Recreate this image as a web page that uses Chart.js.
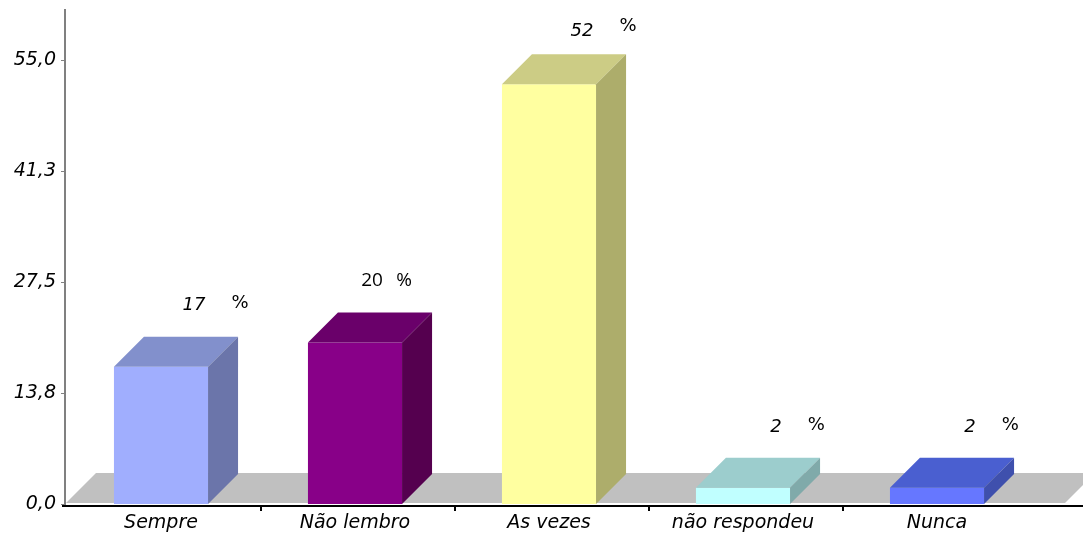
<!DOCTYPE html>
<html lang="pt">
<head>
<meta charset="UTF-8" />
<title>Respostas</title>
<script src="https://cdn.jsdelivr.net/npm/chart.js@4.4.0/dist/chart.umd.min.js"></script>
<style>
  html, body { margin: 0; padding: 0; background: #fff; }
</style>
</head>
<body>
<div style="width: 1083px; height: 533px">
  <canvas id="chart" width="1083" height="533"></canvas>
</div>
<script>
  const categories = ["Sempre", "Não lembro", "As vezes", "não respondeu", "Nunca"];
  const percentages = [17, 20, 52, 2, 2];
  const yTickValues = [0, 13.75, 27.5, 41.25, 55];
  const yTickLabels = ["0,0", "13,8", "27,5", "41,3", "55,0"];

  // front / top / side shades for each column
  const frontColors = ["#a0aefe", "#880088", "#ffffa0", "#c0ffff", "#6677ff"];
  const topColors = ["#8290cc", "#6a006a", "#cccc85", "#9ccdcd", "#4a5fd0"];
  const sideColors = ["#6b75aa", "#55004f", "#adad6b", "#80aaaa", "#3f50ad"];

  const DEPTH = 30;
  const tickFont = { family: "DejaVu Sans", size: 19, style: "italic" };

  const box3d = {
    id: "box3d",
    beforeDatasetsDraw(chart) {
      const { ctx, chartArea: a } = chart;
      const base = a.bottom - 1;
      // grey floor
      ctx.save();
      ctx.fillStyle = "#c0c0c0";
      ctx.beginPath();
      ctx.moveTo(a.left + 2, base);
      ctx.lineTo(a.left + 2 + DEPTH, base - DEPTH);
      ctx.lineTo(a.right + 31 + DEPTH, base - DEPTH);
      ctx.lineTo(a.right + 31, base);
      ctx.closePath();
      ctx.fill();
      ctx.restore();
    },
    afterDatasetsDraw(chart) {
      const { ctx, chartArea: a } = chart;
      const meta = chart.getDatasetMeta(0);
      ctx.save();
      meta.data.forEach((bar, i) => {
        const l = bar.x - bar.width / 2;
        const r = bar.x + bar.width / 2;
        const t = bar.y;
        const b = bar.base;
        // top face
        ctx.fillStyle = topColors[i];
        ctx.beginPath();
        ctx.moveTo(l, t);
        ctx.lineTo(l + DEPTH, t - DEPTH);
        ctx.lineTo(r + DEPTH, t - DEPTH);
        ctx.lineTo(r, t);
        ctx.closePath();
        ctx.fill();
        // right side face
        ctx.fillStyle = sideColors[i];
        ctx.beginPath();
        ctx.moveTo(r, t);
        ctx.lineTo(r + DEPTH, t - DEPTH);
        ctx.lineTo(r + DEPTH, b - DEPTH);
        ctx.lineTo(r, b);
        ctx.closePath();
        ctx.fill();
      });

      // axes
      const axisY = a.bottom + 1;
      ctx.fillStyle = "#808080";
      ctx.fillRect(a.left, a.top + 1, 2, axisY - a.top);
      const ys = chart.scales.y;
      yTickValues.forEach((v) => {
        const py = Math.round(ys.getPixelForValue(v));
        ctx.fillRect(a.left - 3, py, 3, 1);
      });
      ctx.fillStyle = "#000";
      ctx.fillRect(a.left - 2, axisY, chart.width - a.left + 2, 2);
      const xs = chart.scales.x;
      for (let i = 0; i < categories.length - 1; i++) {
        const px = Math.round((xs.getPixelForValue(i) + xs.getPixelForValue(i + 1)) / 2) + 2;
        ctx.fillRect(px, axisY + 2, 2, 4);
      }

      // value labels above each column
      ctx.textBaseline = "middle";
      meta.data.forEach((bar, i) => {
        const cx = bar.x + DEPTH;
        const raw = bar.y - DEPTH - 31;
        const cy = Math.max(raw, 31);
        const txt = String(percentages[i]);
        ctx.fillStyle = "#000";
        if (i === 1) {
          ctx.textAlign = "center";
          ctx.font = "19px 'Open Sans'";
          ctx.fillText(txt, cx - 13, cy - 1);
          ctx.fillText("%", cx + 19, cy - 1);
        } else {
          ctx.font = "italic 18px 'DejaVu Sans'";
          ctx.textAlign = "center";
          ctx.fillText(txt, cx + 3, cy);
          const right = cx + 3 + ctx.measureText(txt).width / 2;
          ctx.font = "18px 'DejaVu Sans'";
          ctx.textAlign = "left";
          ctx.fillText("%", right + 26, raw < 31 ? cy - 5 : cy - 2);
        }
      });
      ctx.restore();
    },
  };

  new Chart(document.getElementById("chart"), {
    type: "bar",
    data: {
      labels: categories,
      datasets: [
        {
          data: percentages,
          backgroundColor: frontColors,
          borderWidth: 0,
          barPercentage: 0.485,
          categoryPercentage: 1,
        },
      ],
    },
    options: {
      responsive: false,
      animation: false,
      layout: { padding: { top: 8, right: 49, left: 0, bottom: 0 } },
      plugins: {
        legend: { display: false },
        tooltip: { enabled: false },
      },
      scales: {
        x: {
          grid: { display: false, drawTicks: false },
          border: { display: false },
          ticks: { color: "#000", font: tickFont, padding: 8, maxRotation: 0 },
          afterFit(scale) {
            scale.height = 29;
            scale.paddingLeft = 0;
            scale.paddingRight = 0;
          },
        },
        y: {
          min: 0,
          max: 61.44,
          grid: { display: false, drawTicks: false },
          border: { display: false },
          afterBuildTicks(scale) {
            scale.ticks = yTickValues.map((v) => ({ value: v }));
          },
          ticks: {
            color: "#000",
            font: tickFont,
            padding: 8,
            callback: (value, index) => yTickLabels[index],
          },
          afterFit(scale) {
            scale.width = 64;
            scale.paddingTop = 0;
            scale.paddingBottom = 0;
          },
        },
      },
    },
    plugins: [box3d],
  });
</script>
</body>
</html>
